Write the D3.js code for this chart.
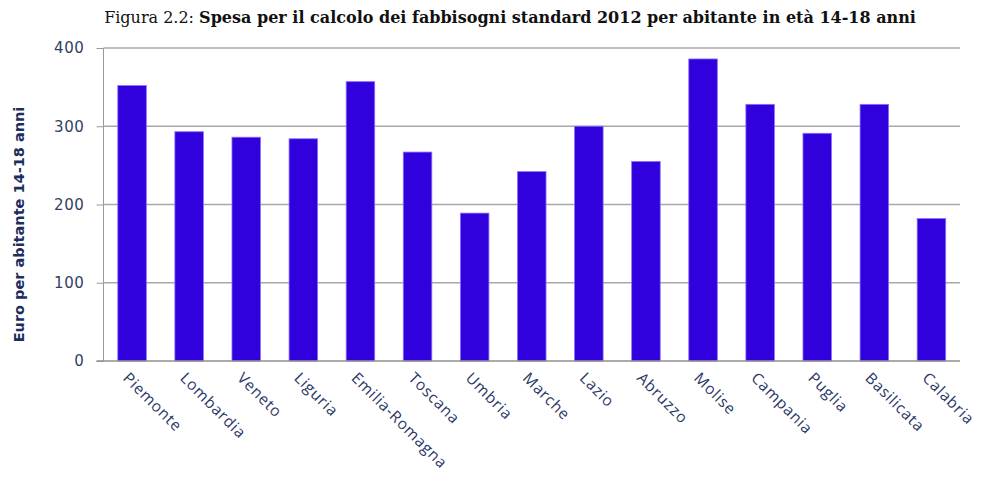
<!DOCTYPE html>
<html>
<head>
<meta charset="utf-8">
<script src="https://cdn.jsdelivr.net/npm/d3@7"></script>
<style>
  body { margin: 0; background: #fff; }
  svg { display: block; }
</style>
</head>
<body>
<svg id="chart" width="981" height="482"></svg>
<script>
const regions = ["Piemonte","Lombardia","Veneto","Liguria","Emilia-Romagna","Toscana","Umbria","Marche","Lazio","Abruzzo","Molise","Campania","Puglia","Basilicata","Calabria"];
const spesa = [352, 293, 286, 284, 357, 267, 189, 242, 300, 255, 386, 328, 291, 328, 182];
const yTicks = [0, 100, 200, 300, 400];
const titlePrefix = "Figura 2.2:";
const titleMain = "Spesa per il calcolo dei fabbisogni standard 2012 per abitante in età 14-18 anni";
const yTitle = "Euro per abitante 14-18 anni";

const W = 981, H = 482;
const m = {top: 48, right: 21, bottom: 121, left: 103.5};
const svg = d3.select("#chart");

const x = d3.scaleBand().domain(regions).range([m.left, W - m.right]).paddingInner(0.5).paddingOuter(0.25);
const y = d3.scaleLinear().domain([0, 400]).range([H - m.bottom, m.top]);

// gridlines + ticks
const yAxis = d3.axisLeft(y).tickValues(yTicks).tickSize(7).tickPadding(12).tickFormat(d3.format("d"));
const gy = svg.append("g").attr("transform", `translate(${m.left},0)`).call(yAxis);
gy.select(".domain").attr("stroke", "#9a9a9a").attr("d", `M0,${y(400)}V${y(0)}`);
gy.selectAll(".tick line").attr("stroke", "#9a9a9a");
gy.selectAll(".tick text").attr("fill", "#333f5e").style("font-family", "DejaVu Sans, sans-serif")
  .style("font-size", "15px").style("letter-spacing", "0.6px");

svg.append("g").selectAll("line").data(yTicks.filter(d => d > 0)).join("line")
  .attr("x1", m.left).attr("x2", W - m.right)
  .attr("y1", d => y(d)).attr("y2", d => y(d))
  .attr("stroke", "#a8a8a8").attr("stroke-width", 1.5);

// bars
svg.append("g").selectAll("rect").data(spesa).join("rect")
  .attr("x", (d, i) => x(regions[i]))
  .attr("width", x.bandwidth())
  .attr("y", d => y(d))
  .attr("height", d => y(0) - y(d))
  .attr("fill", "#3000dd")
  .attr("stroke", "#8a70ff")
  .attr("stroke-width", 0.8);

// bottom axis line
svg.append("line").attr("x1", m.left - 7).attr("x2", W - m.right)
  .attr("y1", y(0)).attr("y2", y(0)).attr("stroke", "#8f8f8f").attr("stroke-width", 1.5);

// x labels
svg.append("g").selectAll("text").data(regions).join("text")
  .attr("transform", d => `translate(${x(d) + x.bandwidth()/2 - 10},${y(0) + 18}) rotate(45)`)
  .attr("text-anchor", "start")
  .attr("fill", "#2a3868")
  .style("font-family", "Open Sans, sans-serif")
  .style("font-size", "15.5px")
  .style("letter-spacing", "0.8px")
  .text(d => d);

// y title
svg.append("text")
  .attr("transform", `translate(24,${(y(0) + y(400))/2 + 20}) rotate(-90)`)
  .attr("text-anchor", "middle")
  .attr("fill", "#1d2d5e")
  .style("font-family", "DejaVu Sans, sans-serif")
  .style("font-size", "14.5px")
  .style("font-weight", "bold")
  .text(yTitle);

// title
const t = svg.append("text")
  .attr("x", 510).attr("y", 23)
  .attr("text-anchor", "middle")
  .attr("fill", "#111")
  .style("font-family", "DejaVu Serif, serif")
  .style("font-size", "16px");
t.append("tspan").text(titlePrefix + " ");
t.append("tspan").style("font-weight", "bold").text(titleMain);
</script>
</body>
</html>
